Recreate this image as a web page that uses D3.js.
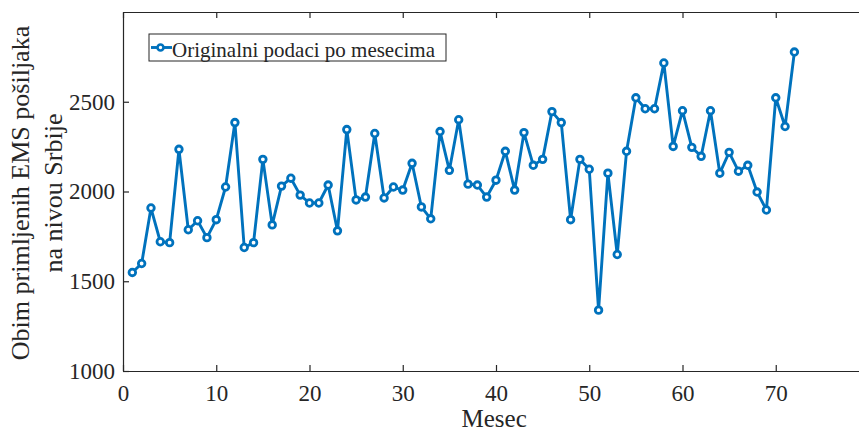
<!DOCTYPE html>
<html>
<head>
<meta charset="utf-8">
<script src="https://cdn.jsdelivr.net/npm/d3@7"></script>
<style>
  body { margin: 0; background: #fff; }
  text { font-family: "Liberation Serif", "Times New Roman", serif; fill: #262626; }
</style>
</head>
<body>
<svg id="chart"></svg>
<script>
// monthly EMS volume, months 1..72
const months = d3.range(1, 73);
const volumes = [
  1549, 1599, 1908, 1720, 1715, 2235, 1787, 1837, 1743, 1843,
  2025, 2384, 1688, 1715, 2179, 1814, 2030, 2074, 1980, 1936,
  1936, 2036, 1781, 2345, 1953, 1969, 2323, 1964, 2025, 2008,
  2157, 1914, 1848, 2334, 2118, 2400, 2041, 2036, 1969, 2063,
  2224, 2008, 2328, 2146, 2179, 2445, 2384, 1843, 2179, 2124,
  1339, 2102, 1649, 2224, 2522, 2461, 2461, 2716, 2251, 2450,
  2246, 2196, 2450, 2102, 2218, 2113, 2146, 1997, 1897, 2522,
  2362, 2777
];
const xTicks = [0, 10, 20, 30, 40, 50, 60, 70];
const yTicks = [1000, 1500, 2000, 2500];
const seriesName = "Originalni podaci po mesecima";

const config = {
  width: 859, height: 433,
  margin: {top: 12, right: -10, bottom: 62, left: 123}
};
const innerW = config.width - config.margin.left - config.margin.right;
const innerH = config.height - config.margin.top - config.margin.bottom;
const blue = "#0072BD";
const axisColor = "#262626";

const svg = d3.select("#chart")
  .attr("width", config.width)
  .attr("height", config.height);

const chart = svg.append("g")
  .attr("transform", `translate(${config.margin.left},${config.margin.top})`);

const xScale = d3.scaleLinear().domain([0, 80]).range([0, innerW]);
const yScale = d3.scaleLinear().domain([1000, 3000]).range([innerH, 0]);

// axes (ticks point inward, box on)
const xAxis = d3.axisBottom(xScale).tickValues(xTicks).tickSize(-6).tickSizeOuter(0).tickFormat(d3.format("d"));
const yAxis = d3.axisLeft(yScale).tickValues(yTicks).tickSize(-6).tickSizeOuter(0).tickPadding(8).tickFormat(d3.format("d"));
const xTop = d3.axisTop(xScale).tickValues(xTicks).tickSize(-6).tickSizeOuter(0).tickFormat("");

const xG = chart.append("g").attr("transform", `translate(0,${innerH})`).call(xAxis);
const yG = chart.append("g").call(yAxis);
const tG = chart.append("g").call(xTop);

[xG, yG, tG].forEach(g => {
  g.attr("font-family", null);
  g.select(".domain").attr("stroke", axisColor).attr("stroke-width", 1.2);
  g.selectAll(".tick line").attr("stroke", axisColor).attr("stroke-width", 1.2);
  g.selectAll(".tick text").attr("font-size", "23px").attr("fill", axisColor);
});
xG.selectAll(".tick text").attr("y", 30).attr("dy", 0);

// axis titles
chart.append("text")
  .attr("text-anchor", "middle")
  .attr("x", xScale(39.8))
  .attr("y", innerH + 56)
  .attr("font-size", "25px")
  .text("Mesec");

const yLab = chart.append("text")
  .attr("text-anchor", "middle")
  .attr("transform", `translate(0,181) rotate(-90)`)
  .attr("font-size", "26px");
yLab.append("tspan").attr("x", 0).attr("y", -94).text("Obim primljenih EMS pošiljaka");
yLab.append("tspan").attr("x", 0).attr("y", -61).text("na nivou Srbije");

// line + markers
const pts = months.map((m, i) => [m, volumes[i]]);
const line = d3.line().x(d => xScale(d[0])).y(d => yScale(d[1]));

chart.append("path")
  .datum(pts)
  .attr("fill", "none")
  .attr("stroke", blue)
  .attr("stroke-width", 2.9)
  .attr("stroke-linejoin", "round")
  .attr("d", line);

chart.selectAll("circle.pt")
  .data(pts)
  .enter()
  .append("circle")
    .attr("class", "pt")
    .attr("cx", d => xScale(d[0]))
    .attr("cy", d => yScale(d[1]))
    .attr("r", 3.3)
    .attr("fill", "#fff")
    .attr("stroke", blue)
    .attr("stroke-width", 2.8);

// legend
const leg = chart.append("g").attr("transform", "translate(26,22)");
leg.append("rect")
  .attr("width", 297).attr("height", 27)
  .attr("fill", "#fff").attr("stroke", axisColor).attr("stroke-width", 1);
leg.append("line")
  .attr("x1", 2).attr("x2", 23).attr("y1", 13.5).attr("y2", 13.5)
  .attr("stroke", blue).attr("stroke-width", 2.9);
leg.append("circle")
  .attr("cx", 11.5).attr("cy", 13.5).attr("r", 3)
  .attr("fill", "#fff").attr("stroke", blue).attr("stroke-width", 2.6);
leg.append("text")
  .attr("x", 23).attr("y", 22.5)
  .attr("font-size", "21px")
  .text(seriesName);
</script>
</body>
</html>
